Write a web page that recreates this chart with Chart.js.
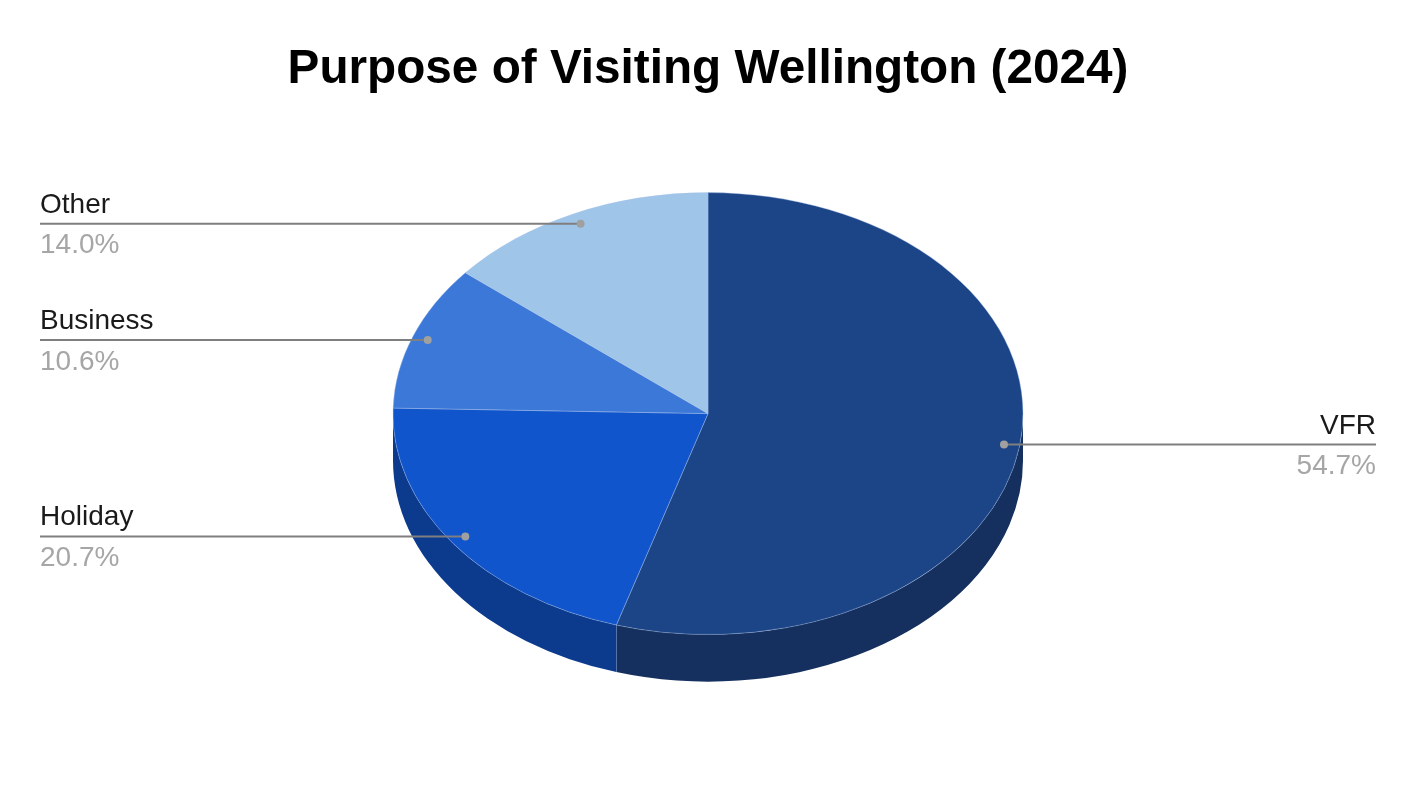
<!DOCTYPE html>
<html>
<head>
<meta charset="utf-8">
<title>Purpose of Visiting Wellington (2024)</title>
<script src="https://cdn.jsdelivr.net/npm/chart.js@4"></script>
<style>
	html, body { margin: 0; padding: 0; background: #fff; }
	canvas { display: block; }
</style>
</head>
<body>
<canvas id="pie_chart" width="1416" height="792"></canvas>
<script>
const categories = ['VFR', 'Holiday', 'Business', 'Other'];
const shares = [54.7, 20.7, 10.6, 14.0];
const top_colors = ['#1c4587', '#1155cc', '#3c78d8', '#9fc5e8'];
const wall_colors = ['#15305e', '#0c3b8e', '#2a5497', '#6f8aa2'];

const squash = 0.7016;
const depth = 47;
const font = '"Liberation Sans", Arial, sans-serif';

// the chart is a normal pie, squashed to an ellipse with a side wall below it
let pie3d = {
	id: 'pie3d',
	beforeDatasetsDraw: function(chart){
		let ctx = chart.ctx;
		let arcs = chart.getDatasetMeta(0).data;
		arcs.forEach((arc, i)=>{
			let a0 = Math.max(arc.startAngle, 0);
			let a1 = Math.min(arc.endAngle, Math.PI);
			if (a1 <= a0) return;
			let rx = arc.outerRadius;
			let ry = rx * squash;
			ctx.beginPath();
			ctx.ellipse(arc.x, arc.y, rx, ry, 0, a0, a1);
			ctx.ellipse(arc.x, arc.y + depth, rx, ry, 0, a1, a0, true);
			ctx.closePath();
			ctx.fillStyle = wall_colors[i];
			ctx.fill();
			// seam between two walls
			if (arc.endAngle < Math.PI){
				let sx = arc.x + rx * Math.cos(arc.endAngle);
				let sy = arc.y + ry * Math.sin(arc.endAngle);
				ctx.beginPath();
				ctx.moveTo(sx, sy);
				ctx.lineTo(sx, sy + depth);
				ctx.strokeStyle = 'rgba(170,195,235,0.45)';
				ctx.lineWidth = 1;
				ctx.stroke();
			}
		})
		let c = arcs[0];
		ctx.save();
		ctx.translate(c.x, c.y);
		ctx.scale(1, squash);
		ctx.translate(-c.x, -c.y);
	},
	afterDatasetsDraw: function(chart){
		let ctx = chart.ctx;
		ctx.restore();
		chart.getDatasetMeta(0).data.forEach((arc, i)=>{
			let mid = (arc.startAngle + arc.endAngle) / 2;
			let r = arc.outerRadius * 0.95;
			let px = arc.x + r * Math.cos(mid);
			let py = arc.y + r * Math.sin(mid) * squash;
			let left = px < arc.x;
			let edge = left ? 40 : 1376;

			ctx.beginPath();
			ctx.moveTo(edge, py);
			ctx.lineTo(px, py);
			ctx.strokeStyle = '#7f7f7f';
			ctx.lineWidth = 2;
			ctx.stroke();

			ctx.beginPath();
			ctx.arc(px, py, 4, 0, Math.PI * 2);
			ctx.fillStyle = '#a0a0a0';
			ctx.fill();

			ctx.textAlign = left ? 'left' : 'right';
			ctx.textBaseline = 'alphabetic';
			ctx.font = `28px ${font}`;
			ctx.fillStyle = '#1a1a1a';
			ctx.fillText(categories[i], edge, py - 11);
			ctx.fillStyle = '#a6a6a6';
			ctx.fillText(shares[i].toFixed(1) + '%', edge, py + 29.5);
		})
	}
}

new Chart('pie_chart', {
	type: 'pie',
	data: {
		labels: categories,
		datasets: [{
			data: shares,
			backgroundColor: top_colors,
			borderColor: 'rgba(170,195,235,0.45)',
			borderWidth: 1,
			radius: 315,
			clip: false
		}]
	},
	options: {
		responsive: false,
		animation: false,
		layout: { padding: { bottom: 63 } },
		plugins: {
			legend: { display: false },
			tooltip: { enabled: false },
			title: {
				display: true,
				text: 'Purpose of Visiting Wellington (2024)',
				color: '#000000',
				font: { family: font, size: 47.7, weight: 'bold' },
				padding: { top: 41, bottom: 0 }
			}
		}
	},
	plugins: [pie3d]
})
</script>
</body>
</html>
